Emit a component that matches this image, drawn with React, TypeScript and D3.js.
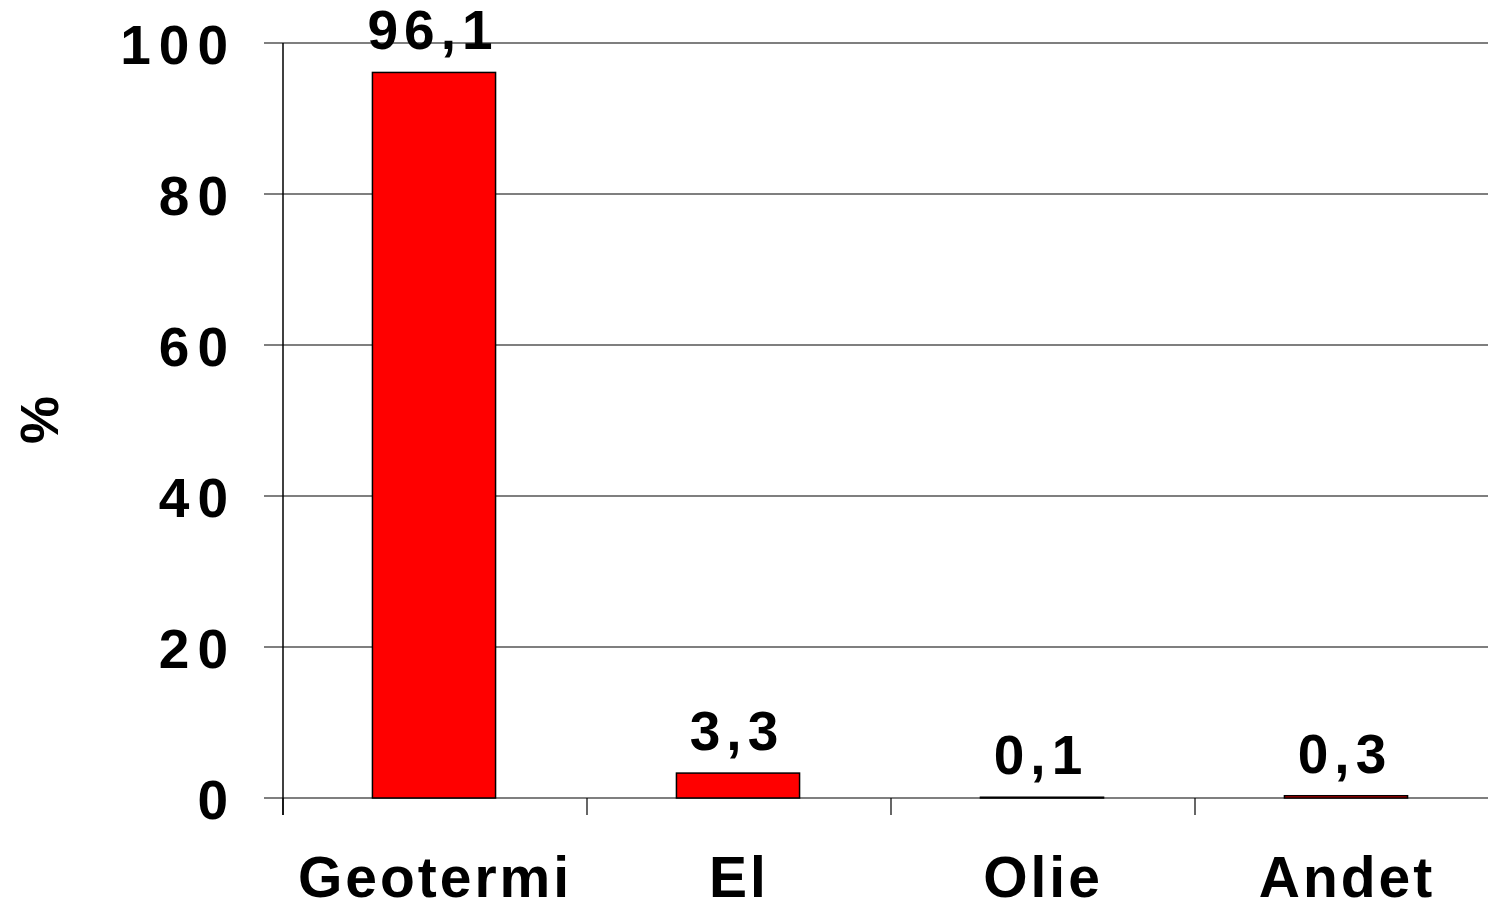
import React, { useEffect, useRef } from 'react';
import * as d3 from 'd3';

const categories = ['Geotermi', 'El', 'Olie', 'Andet'];
const values = [96.1, 3.3, 0.1, 0.3];
const valueLabels = ['96,1', '3,3', '0,1', '0,3'];
const yTicks = [0, 20, 40, 60, 80, 100];
const yLabel = '%';

const App: React.FC = () => {
  const svgRef = useRef<SVGSVGElement>(null);

  useEffect(() => {
    if (!svgRef.current) return;

    const width = 1488;
    const height = 904;
    const svg = d3.select(svgRef.current)
      .attr('width', width)
      .attr('height', height);

    svg.selectAll('*').remove();

    const left = 283;
    const step = 304;
    const font = 'Liberation Sans, Arial, Helvetica, sans-serif';

    const x = d3.scaleBand<string>()
      .domain(categories)
      .range([left, left + step * categories.length])
      .padding(0);

    const y = d3.scaleLinear()
      .domain([0, 100])
      .range([798, 43]);

    // gridlines + y ticks
    svg.append('g')
      .selectAll('line')
      .data(yTicks)
      .enter()
      .append('line')
      .attr('x1', left - 19)
      .attr('x2', width)
      .attr('y1', d => y(d))
      .attr('y2', d => y(d))
      .attr('stroke', '#000')
      .attr('stroke-width', 1.2);

    svg.append('g')
      .selectAll('text')
      .data(yTicks)
      .enter()
      .append('text')
      .attr('x', 236)
      .attr('y', d => y(d) + 21)
      .attr('text-anchor', 'end')
      .attr('font-family', font)
      .attr('font-weight', 'bold')
      .attr('font-size', 55)
      .attr('letter-spacing', 8)
      .attr('fill', '#000')
      .text(d => String(d));

    // x ticks at band edges
    svg.append('g')
      .selectAll('line')
      .data(categories)
      .enter()
      .append('line')
      .attr('x1', d => x(d)!)
      .attr('x2', d => x(d)!)
      .attr('y1', y(0))
      .attr('y2', y(0) + 17)
      .attr('stroke', '#000')
      .attr('stroke-width', 1.2);

    // y axis line
    svg.append('line')
      .attr('x1', left)
      .attr('x2', left)
      .attr('y1', y(100))
      .attr('y2', y(0) + 17)
      .attr('stroke', '#000')
      .attr('stroke-width', 1.5);

    const barW = x.bandwidth() * 0.405;

    svg.append('g')
      .selectAll('rect')
      .data(values)
      .enter()
      .append('rect')
      .attr('x', (d, i) => x(categories[i])! + (x.bandwidth() - barW) / 2 - 1)
      .attr('y', d => y(d))
      .attr('width', barW)
      .attr('height', d => y(0) - y(d))
      .attr('fill', '#ff0000')
      .attr('stroke', '#000')
      .attr('stroke-width', 1.5);

    svg.append('g')
      .selectAll('text')
      .data(values)
      .enter()
      .append('text')
      .attr('x', (d, i) => x(categories[i])! + x.bandwidth() / 2 - 2)
      .attr('y', d => y(d) - 23)
      .attr('text-anchor', 'middle')
      .attr('font-family', font)
      .attr('font-weight', 'bold')
      .attr('font-size', 55)
      .attr('letter-spacing', 6)
      .attr('fill', '#000')
      .text((d, i) => valueLabels[i]);

    svg.append('g')
      .selectAll('text')
      .data(categories)
      .enter()
      .append('text')
      .attr('x', d => x(d)! + x.bandwidth() / 2)
      .attr('y', 897)
      .attr('text-anchor', 'middle')
      .attr('font-family', font)
      .attr('font-weight', 'bold')
      .attr('font-size', 57)
      .attr('letter-spacing', 3)
      .attr('fill', '#000')
      .text(d => d);

    svg.append('text')
      .attr('transform', 'translate(58, 420) rotate(-90)')
      .attr('text-anchor', 'middle')
      .attr('font-family', font)
      .attr('font-weight', 'bold')
      .attr('font-size', 54)
      .attr('fill', '#000')
      .text(yLabel);
  }, []);

  return (
    <svg
      ref={svgRef}
      style={{ position: 'absolute', left: 0, top: 0, background: '#fff', display: 'block' }}
    />
  );
};

export default App;
